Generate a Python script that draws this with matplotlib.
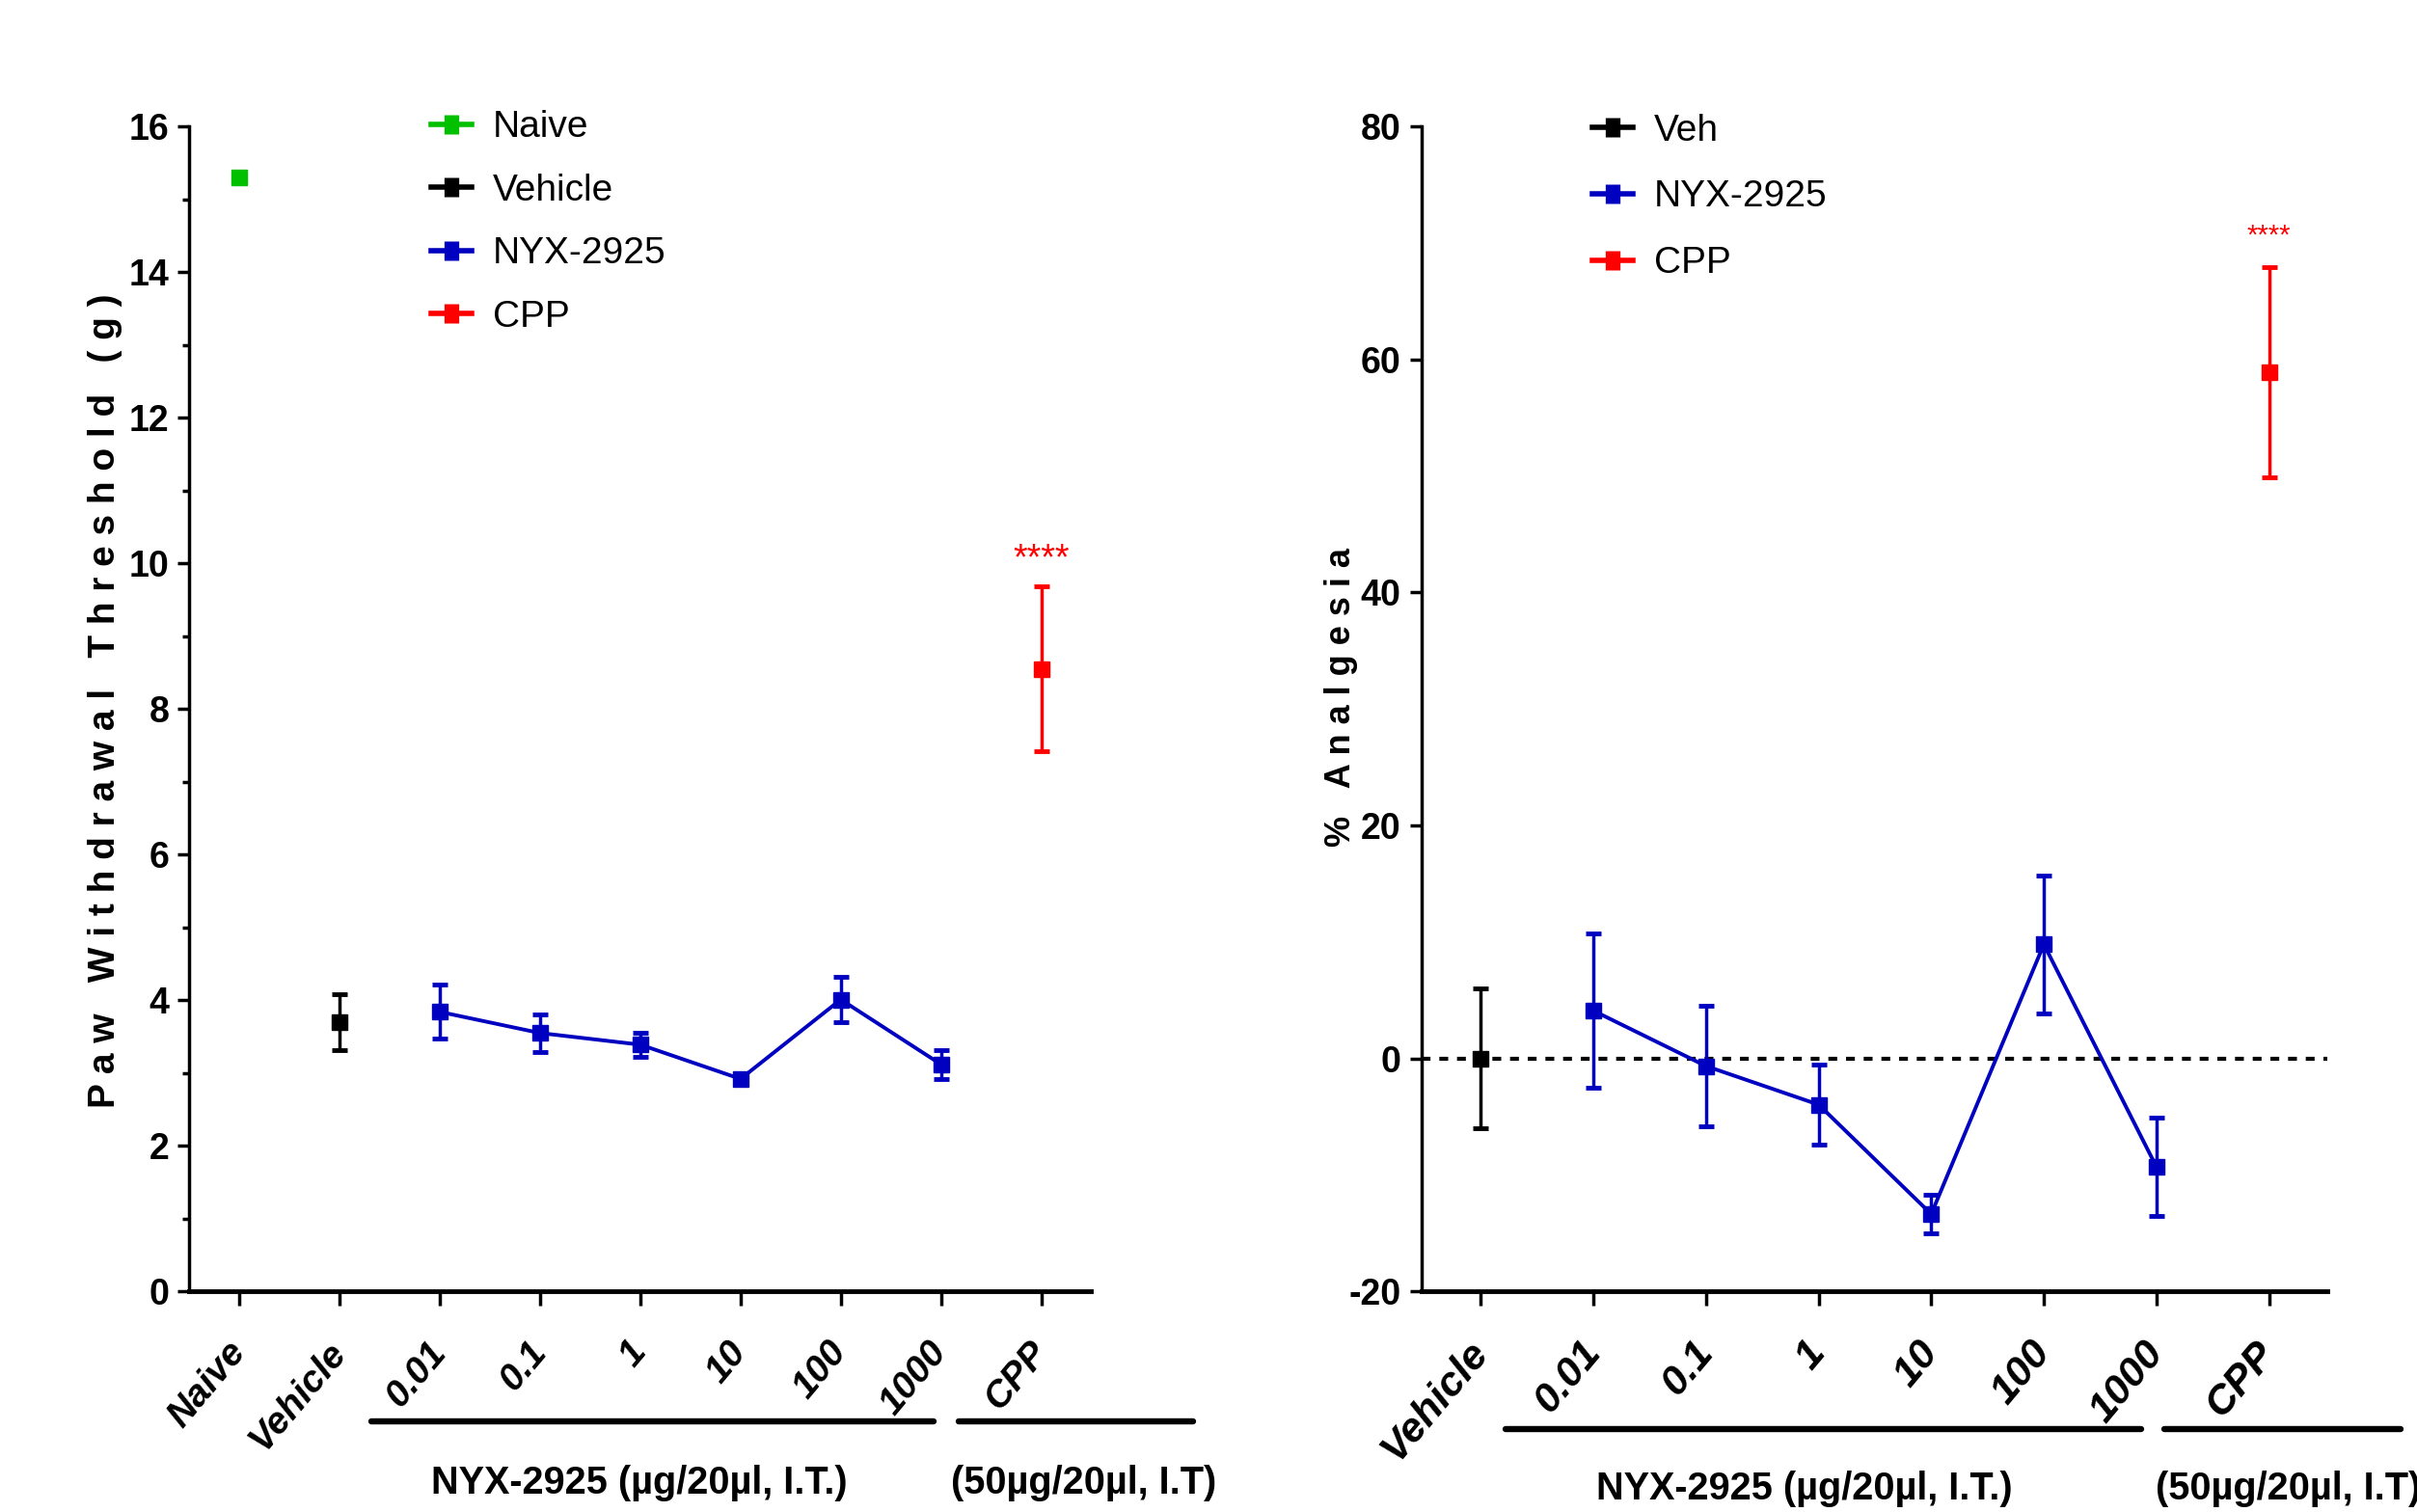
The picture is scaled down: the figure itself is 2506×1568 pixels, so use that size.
import matplotlib
matplotlib.use('Agg')
import matplotlib.pyplot as plt
from matplotlib.lines import Line2D
from matplotlib.transforms import blended_transform_factory
import numpy as np

plt.rcParams['font.family'] = ['Liberation Sans', 'DejaVu Sans']
plt.rcParams['axes.unicode_minus'] = False

# ---------------- data ----------------
left_cats = ['Naive', 'Vehicle', '0.01', '0.1', '1', '10', '100', '1000', 'CPP']
naive_mean = [15.3]
naive_sem = [0.08]
veh_mean = [3.70]
veh_sem = [0.38]
nyx_mean = [3.84, 3.55, 3.39, 2.92, 4.01, 3.12]
nyx_sem = [0.37, 0.26, 0.17, 0.06, 0.31, 0.20]
cpp_mean = [8.55]
cpp_sem = [1.13]

right_cats = ['Vehicle', '0.01', '0.1', '1', '10', '100', '1000', 'CPP']
r_veh_mean = [0.0]
r_veh_sem = [6.0]
r_nyx_mean = [4.1, -0.65, -3.96, -13.35, 9.8, -9.3]
r_nyx_sem = [6.6, 5.15, 3.4, 1.65, 5.9, 4.2]
r_cpp_mean = [58.9]
r_cpp_sem = [9.0]

GREEN = '#00C000'
BLUE = '#0000C0'
RED = '#FF0000'
BLACK = '#000000'

fig = plt.figure(figsize=(25.06, 15.68), dpi=100)
axL = fig.add_axes([0.0784, 0.1458, 0.3731, 0.7706])
axR = fig.add_axes([0.588, 0.1458, 0.375, 0.7706])

eb = dict(fmt='s', ms=11, capsize=6, capthick=3.5, elinewidth=2.5)


def spaced(s):
    return ' '.join(list(s))


def style_axes(ax, xlabels, lsize):
    for s in ['top', 'right']:
        ax.spines[s].set_visible(False)
    ax.spines['left'].set_linewidth(2.5)
    ax.spines['bottom'].set_linewidth(3.5)
    ax.tick_params(axis='y', which='major', length=9, width=2.5, labelsize=27, pad=6)
    ax.tick_params(axis='y', which='minor', length=5, width=2.5)
    ax.tick_params(axis='x', which='major', length=11, width=2.5, pad=30)
    ax.set_xticks(np.arange(len(xlabels)))
    ax.set_xticklabels(xlabels, rotation=50, rotation_mode='anchor', ha='right', va='center',
                       fontsize=lsize, fontweight='bold', fontstyle='italic')
    for t in ax.get_yticklabels():
        t.set_fontweight('bold')


# ---------------- left panel ----------------
xL = np.arange(len(left_cats))
axL.errorbar(xL[0:1], naive_mean, yerr=naive_sem, color=GREEN, ls='none', **eb)
axL.errorbar(xL[1:2], veh_mean, yerr=veh_sem, color=BLACK, ls='none', **eb)
axL.errorbar(xL[2:8], nyx_mean, yerr=nyx_sem, color=BLUE, ls='-', lw=2.8, **eb)
axL.errorbar(xL[8:9], cpp_mean, yerr=cpp_sem, color=RED, ls='none', **eb)
axL.text(xL[8], 10.05, '****', color=RED, fontsize=27, ha='center', va='center')

axL.set_xlim(-0.5, 8.5)
axL.set_ylim(0, 16)
axL.set_yticks(np.arange(0, 17, 2))
axL.set_yticks(np.arange(1, 16, 2), minor=True)
style_axes(axL, left_cats, 28)
axL.set_ylabel(spaced('Paw Withdrawal Threshold (g)'), fontsize=28, fontweight='bold', va='center')
axL.yaxis.set_label_coords(-0.094, 0.507)


def leg_handle(c):
    return (Line2D([], [], color=c, lw=4),
            Line2D([], [], color=c, marker='|', ms=15, mew=11, ls='none'))


axL.legend([leg_handle(GREEN), leg_handle(BLACK), leg_handle(BLUE), leg_handle(RED)],
           ['Naive', 'Vehicle', 'NYX-2925', 'CPP'], frameon=False, fontsize=28,
           loc='upper left', bbox_to_anchor=(0.268, 1.014), borderaxespad=0, borderpad=0,
           handlelength=1.07, handletextpad=0.57, labelspacing=0.76)

trL = blended_transform_factory(axL.transData, axL.transAxes)
axL.plot([1.315, 6.93], [-0.111, -0.111], transform=trL, clip_on=False, color=BLACK, lw=4.6,
         solid_capstyle='round')
axL.plot([7.18, 9.52], [-0.111, -0.111], transform=trL, clip_on=False, color=BLACK, lw=4.6,
         solid_capstyle='round')
axL.text(3.99, -0.164, 'NYX-2925 (µg/20µl, I.T.)', transform=trL, ha='center', va='center',
         fontsize=28.5, fontweight='bold')
axL.text(8.42, -0.164, '(50µg/20µl, I.T)', transform=trL, ha='center', va='center',
         fontsize=28.5, fontweight='bold')

# ---------------- right panel ----------------
xR = np.arange(len(right_cats))
axR.axhline(0, color=BLACK, lw=3, ls=(0, (2.2, 2.2)), zorder=1)
axR.errorbar(xR[0:1], r_veh_mean, yerr=r_veh_sem, color=BLACK, ls='none', **eb)
axR.errorbar(xR[1:7], r_nyx_mean, yerr=r_nyx_sem, color=BLUE, ls='-', lw=2.8, **eb)
axR.errorbar(xR[7:8], r_cpp_mean, yerr=r_cpp_sem, color=RED, ls='none', **eb)
axR.text(xR[7], 70.6, '****', color=RED, fontsize=21, ha='center', va='center')

axR.set_xlim(-0.53, 7.52)
axR.set_ylim(-20, 80)
axR.set_yticks(np.arange(-20, 81, 20))
style_axes(axR, right_cats, 31)
axR.set_ylabel(spaced('% Analgesia'), fontsize=26, fontweight='bold', va='center')
axR.yaxis.set_label_coords(-0.088, 0.51)

axR.legend([leg_handle(BLACK), leg_handle(BLUE), leg_handle(RED)],
           ['Veh', 'NYX-2925', 'CPP'], frameon=False, fontsize=28,
           loc='upper left', bbox_to_anchor=(0.189, 1.011), borderaxespad=0, borderpad=0,
           handlelength=1.07, handletextpad=0.57, labelspacing=0.84)

trR = blended_transform_factory(axR.transData, axR.transAxes)
axR.plot([0.223, 5.867], [-0.118, -0.118], transform=trR, clip_on=False, color=BLACK, lw=4.6,
         solid_capstyle='round')
axR.plot([6.073, 8.17], [-0.118, -0.118], transform=trR, clip_on=False, color=BLACK, lw=4.6,
         solid_capstyle='round')
axR.text(2.87, -0.169, 'NYX-2925 (µg/20µl, I.T.)', transform=trR, ha='center', va='center',
         fontsize=28.5, fontweight='bold')
axR.text(5.99, -0.169, '(50µg/20µl, I.T)', transform=trR, ha='left', va='center',
         fontsize=28.5, fontweight='bold')

fig.savefig('out.png', dpi=100)
